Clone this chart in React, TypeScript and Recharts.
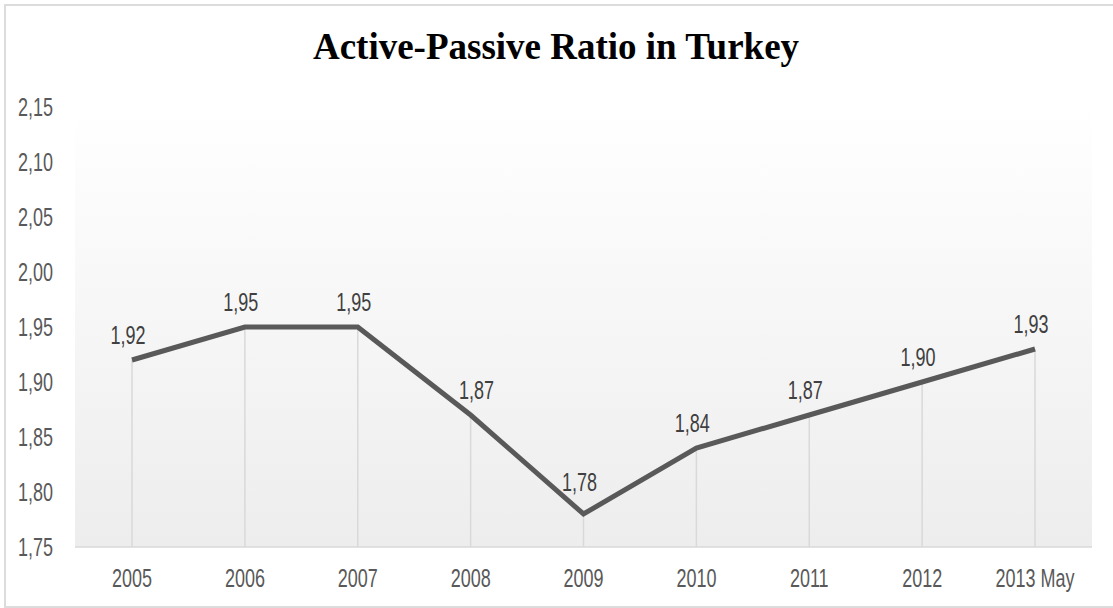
import { LineChart, Line, XAxis, YAxis, CartesianGrid, ReferenceLine, LabelList } from "recharts";

const years = ["2005", "2006", "2007", "2008", "2009", "2010", "2011", "2012", "2013 May"];
const ratios = [1.92, 1.95, 1.95, 1.87, 1.78, 1.84, 1.87, 1.9, 1.93];
const yTicks = [1.75, 1.8, 1.85, 1.9, 1.95, 2.0, 2.05, 2.1, 2.15];

const data = years.map((year, i) => ({ year, ratio: ratios[i] }));

const comma = (v: number) => v.toFixed(2).replace(".", ",");

// tall, squeezed text to stand in for the condensed font of the original
function Narrow({ x, y, anchor, fill, children }: any) {
  return (
    <text
      transform={`translate(${x},${y}) scale(0.72,1)`}
      textAnchor={anchor}
      fill={fill}
      fontSize={25}
      fontFamily="'Liberation Sans', Arial, sans-serif"
    >
      {children}
    </text>
  );
}

const XTick = ({ x, y, payload }: any) => (
  <Narrow x={x} y={y + 40} anchor="middle" fill="#595959">
    {payload.value}
  </Narrow>
);

const YTick = ({ x, y, payload }: any) => (
  <Narrow x={x} y={y + 9} anchor="end" fill="#595959">
    {comma(payload.value)}
  </Narrow>
);

// nudge labels off the line: up in a dip, right when the line falls into the point
const PointLabel = ({ x, y, value, index }: any) => {
  const prev = ratios[index - 1] ?? value;
  const next = ratios[index + 1] ?? value;
  const dip = prev > value && next > value;
  const falling = prev > value && next < value;
  return (
    <Narrow x={x + (falling ? 6 : -4)} y={y - (dip ? 23 : 16)} anchor="middle" fill="#404040">
      {comma(value)}
    </Narrow>
  );
};

export default function App() {
  return (
    <div
      style={{
        position: "absolute",
        left: 4,
        top: 4,
        width: 1115,
        height: 600,
        border: "2px solid #dcdcdc",
        background: "#fff",
      }}
    >
      <div
        style={{
          position: "absolute",
          top: 19,
          left: 0,
          width: 1100,
          textAlign: "center",
          fontFamily: "'Liberation Serif', serif",
          fontWeight: "bold",
          fontSize: 37,
          color: "#000",
        }}
      >
        Active-Passive Ratio in Turkey
      </div>
      <LineChart width={1100} height={597} data={data} margin={{ top: 101, right: 14, bottom: 0, left: 0 }}>
        <defs>
          <linearGradient id="plotBg" x1="0" y1="0" x2="0" y2="1">
            <stop offset="0%" stopColor="#ffffff" />
            <stop offset="100%" stopColor="#ededed" />
          </linearGradient>
        </defs>
        <CartesianGrid horizontal={false} vertical={false} fill="url(#plotBg)" fillOpacity={1} />
        <XAxis
          dataKey="year"
          height={56}
          padding={{ left: 57, right: 57 }}
          stroke="#d9d9d9"
          strokeWidth={1.5}
          tickLine={false}
          tickSize={0}
          tickMargin={0}
          tick={<XTick />}
        />
        <YAxis
          domain={[1.75, 2.15]}
          ticks={yTicks}
          width={69}
          axisLine={false}
          tickLine={false}
          tickSize={0}
          tickMargin={22}
          tick={<YTick />}
        />
        {data.map((d) => (
          <ReferenceLine
            key={d.year}
            segment={[
              { x: d.year, y: 1.75 },
              { x: d.year, y: d.ratio },
            ]}
            stroke="#d9d9d9"
            strokeWidth={1.5}
          />
        ))}
        <Line
          type="linear"
          dataKey="ratio"
          stroke="#595959"
          strokeWidth={5}
          dot={false}
          isAnimationActive={false}
        >
          <LabelList dataKey="ratio" content={<PointLabel />} />
        </Line>
      </LineChart>
    </div>
  );
}
